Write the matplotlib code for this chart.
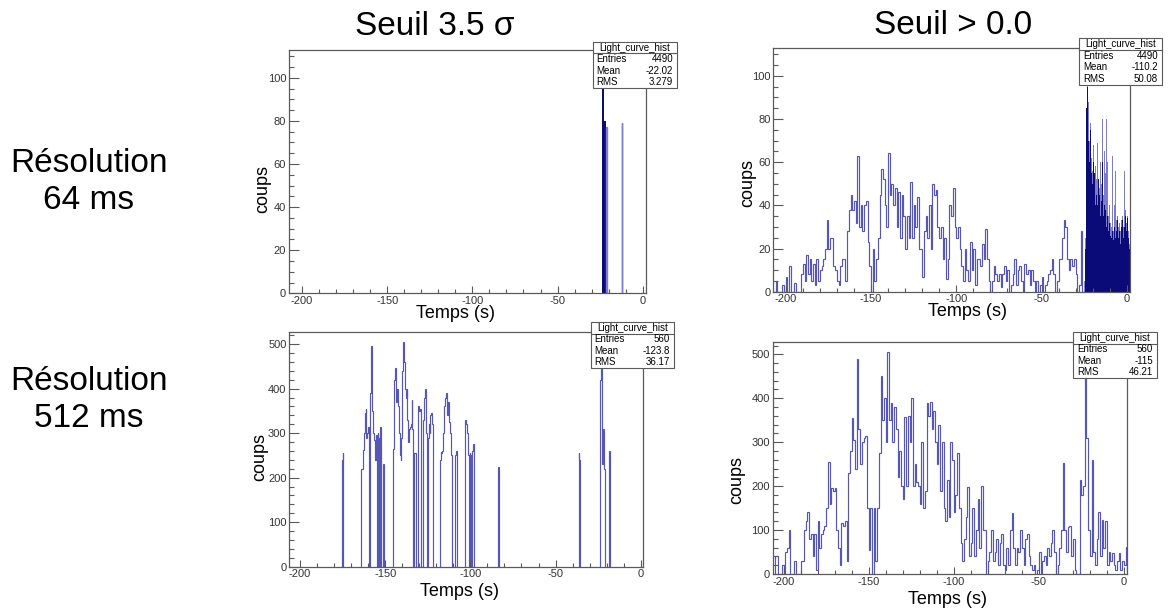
import numpy as np
import matplotlib.pyplot as plt
from matplotlib.patches import Rectangle
from matplotlib.lines import Line2D
from matplotlib.ticker import MultipleLocator
from matplotlib.transforms import Affine2D

W, H = 1170, 610
plt.rcParams['font.family'] = ['Liberation Sans', 'DejaVu Sans']
plt.rcParams['axes.unicode_minus'] = False

# ---------------- donnees ----------------
titres_col = ["Seuil 3.5 σ", "Seuil > 0.0"]
titres_lig = [("Résolution", "64 ms"), ("Résolution", "512 ms")]

# 64 ms, seuil 3.5 sigma : un paquet dense + deux pics isoles
a_bloc_bords = [-24.2, -23.9, -23.0, -22.5, -21.7]
a_bloc_coups = [77, 100, 90, 80]
a_pics_t = [-21.3, -12.3]
a_pics_coups = [77, 79]

# 64 ms, seuil > 0 : lu par pas de 1 s de -207 a -25 s
b_debut = -207
b_coups = [0, 5, 0, 0, 0, 3, 0, 7, 0, 12, 0, 0, 4, 0, 0, 0, 8, 13, 5, 17,
           8, 15, 5, 13, 3, 15, 5, 10, 12, 15, 20, 33, 20, 25, 25, 12, 10, 5, 3, 12,
           15, 15, 5, 28, 38, 45, 38, 42, 32, 63, 30, 40, 28, 40, 42, 23, 12, 0, 20, 5,
           15, 25, 45, 57, 52, 40, 30, 64, 45, 50, 40, 48, 30, 46, 25, 45, 35, 20, 35, 25,
           51, 25, 40, 30, 44, 20, 20, 7, 28, 35, 25, 40, 20, 50, 45, 47, 30, 25, 30, 15,
           25, 6, 15, 40, 35, 48, 30, 25, 30, 20, 12, 5, 20, 10, 5, 23, 10, 20, 3, 15,
           15, 12, 22, 15, 29, 15, 5, 0, 5, 12, 8, 5, 8, 2, 8, 12, 5, 10, 0, 3,
           8, 15, 3, 10, 12, 5, 0, 13, 8, 10, 3, 10, 5, 0, 5, 0, 3, 7, 0, 3,
           5, 8, 10, 15, 8, 0, 5, 15, 15, 25, 33, 30, 15, 10, 15, 12, 15, 8, 0, 3,
           28, 0]
# partie dense (pas de 0.5 s a partir de -25 s) : fond sombre et pointes claires
b_dense_debut = -25.0
b_dense_fond = [0, 20, 85, 95, 80, 70, 60, 75, 55, 50, 60, 45, 55, 40, 45, 40, 52, 38,
                45, 35, 42, 60, 35, 40, 30, 38, 30, 35, 28, 32, 26, 30, 25, 28, 24, 30,
                25, 28, 22, 33, 25, 28, 22, 30, 26, 33, 25, 30, 35, 28, 34, 20, 25, 20]
b_dense_pics = [5, 25, 78, 97, 85, 88, 70, 78, 62, 56, 68, 60, 55, 58, 52, 69, 50, 62,
                48, 60, 50, 80, 45, 65, 40, 55, 80, 60, 35, 40, 32, 48, 30, 63, 28, 40,
                56, 33, 25, 35, 30, 32, 28, 33, 30, 35, 30, 56, 38, 32, 35, 56, 28, 22]

# 512 ms, seuil 3.5 sigma : paquets non nuls, pas de 0.5 s
c_debuts = [-175.5, -164.0, -145.5, -118.0, -103.0, -83.5, -36.5, -24.0, -18.5]
c_paquets = [
    [240, 255],
    [220, 220, 262, 300, 345, 355, 290, 300, 315, 0, 390, 495, 400, 350, 300, 285,
     240, 295, 0, 300, 290, 0, 315, 0, 0, 230, 225],
    [265, 420, 420, 447, 370, 400, 360, 300, 250, 240, 290, 440, 505, 460, 400, 380,
     400, 330, 280, 310, 315, 320, 375, 310, 0, 255, 255, 0, 0, 330, 360, 350, 355,
     0, 0, 330, 360, 380, 400, 300, 0, 290, 320, 300, 340, 345, 320],
    [240, 258, 255, 260, 300, 360, 380, 390, 350, 340, 370, 325, 300, 250, 0, 0, 0, 0,
     250, 260],
    [330, 320, 300, 250, 0, 255, 250, 0, 260, 275],
    [225],
    [255, 240],
    [420, 470, 450, 230, 310, 220],
    [260],
]

# 512 ms, seuil > 0 : pas de 1 s de -206 a +2 s
d_debut = -206
d_coups = [0, 40, 40, 0, 0, 20, 0, 50, 60, 100, 0, 0, 30, 0, 0, 0, 30, 30, 100, 120,
           140, 80, 90, 40, 90, 10, 120, 60, 90, 100, 110, 150, 255, 160, 195, 190, 195, 100, 60, 20,
           115, 110, 120, 30, 230, 280, 355, 305, 240, 490, 330, 250, 300, 310, 315, 150, 55, 150, 0, 150,
           30, 150, 275, 450, 350, 400, 300, 505, 350, 390, 300, 380, 330, 220, 280, 200, 170, 358, 200, 360,
           300, 400, 200, 250, 210, 200, 160, 300, 150, 190, 390, 360, 392, 330, 370, 300, 250, 340, 190, 300,
           150, 120, 215, 130, 300, 260, 140, 180, 276, 150, 70, 30, 80, 130, 199, 40, 70, 150, 40, 100,
           170, 60, 200, 100, 100, 0, 30, 50, 100, 30, 50, 80, 20, 70, 90, 20, 10, 60, 20, 100,
           138, 60, 20, 60, 50, 100, 60, 20, 80, 90, 40, 20, 10, 20, 0, 10, 50, 0, 30, 40,
           20, 60, 40, 70, 100, 50, 0, 20, 60, 100, 252, 100, 50, 108, 110, 40, 80, 10, 0, 0,
           214, 180, 200, 460, 309, 100, 40, 260, 50, 20, 80, 142, 40, 123, 60, 120, 20, 50, 30, 47,
           20, 10, 30, 47, 10, 30, 20, 62]

stats = [("4490", "-22.02", "3.279"), ("4490", "-110.2", "50.08"),
         ("560", "-123.8", "36.17"), ("560", "-115", "46.21")]

# ---------------- mise en page (pixels de l'image) ----------------
cadres = [(289, 50, 646, 293.3), (773.3, 48.3, 1130, 291.7),
          (289.3, 331.7, 643.3, 566.7), (772.7, 341.7, 1127.3, 574)]
xlims = [(-207.6, 1.9), (-207.3, 1.9), (-206.3, 1.5), (-206.4, 2.0)]
ylims = [(0, 112.9), (0, 112.7), (0, 528), (0, 528.7)]
boites = [(592.7, 41.7, 677, 88.3), (1079, 38, 1162, 85),
          (590.5, 322, 674, 368), (1073, 332, 1157, 378)]
pos_coups = [(263, 189), (748, 183), (260, 457), (737, 480)]
pos_temps = [(456, 314), (967, 311), (459, 591), (947, 600)]

ligne = '#5656b6'
fonce = '#0a0a78'
clair = '#7c7cc8'
gris = '#5a5a5a'

fig = plt.figure(figsize=(W / 100, H / 100), dpi=100)
pix = Affine2D().scale(1 / W, -1 / H).translate(0, 1) + fig.transFigure

axes = []
for k, (x0, y0, x1, y1) in enumerate(cadres):
    ax = fig.add_axes([x0 / W, 1 - y1 / H, (x1 - x0) / W, (y1 - y0) / H])
    ax.set_xlim(*xlims[k])
    ax.set_ylim(*ylims[k])
    for sp in ax.spines.values():
        sp.set_color(gris)
        sp.set_linewidth(0.9)
    ax.xaxis.set_major_locator(MultipleLocator(50))
    ax.xaxis.set_minor_locator(MultipleLocator(10))
    if k < 2:
        ax.yaxis.set_major_locator(MultipleLocator(20))
        ax.yaxis.set_minor_locator(MultipleLocator(5))
    else:
        ax.yaxis.set_major_locator(MultipleLocator(100))
        ax.yaxis.set_minor_locator(MultipleLocator(20))
    ax.tick_params(which='both', direction='in', top=False, right=False,
                   color=gris, width=0.8, labelsize=8, labelcolor='#333333', pad=2)
    ax.tick_params(axis='y', which='major', length=7.2)
    ax.tick_params(axis='y', which='minor', length=3.6)
    ax.tick_params(axis='x', which='major', length=5)
    ax.tick_params(axis='x', which='minor', length=2.6)
    axes.append(ax)

# A : 64 ms, 3.5 sigma
ax = axes[0]
ax.stairs(a_bloc_coups, a_bloc_bords, fill=True, color=fonce)
for t, n in zip(a_pics_t, a_pics_coups):
    ax.stairs([n], [t, t + 0.064], color=clair, lw=1.0, baseline=0)

# B : 64 ms, > 0
ax = axes[1]
b_bords = b_debut + np.arange(len(b_coups) + 1)
ax.stairs(b_coups, b_bords, color=ligne, lw=0.85)
bd_bords = b_dense_debut + 0.5 * np.arange(len(b_dense_pics) + 1)
ax.stairs(b_dense_pics, bd_bords, color=clair, lw=0.8, fill=True)
ax.stairs(b_dense_fond, bd_bords, color=fonce, fill=True)

# C : 512 ms, 3.5 sigma
ax = axes[2]
for t0, vals in zip(c_debuts, c_paquets):
    bords = t0 + 0.5 * np.arange(len(vals) + 1)
    ax.stairs(vals, bords, color=ligne, lw=0.85, baseline=0)

# D : 512 ms, > 0
ax = axes[3]
d_bords = d_debut + np.arange(len(d_coups) + 1)
ax.stairs(d_coups, d_bords, color=ligne, lw=0.85)

# titres des axes
for k in range(4):
    fig.text(*pos_coups[k], "coups", transform=pix, rotation=90, fontsize=13,
             ha='center', va='center')
    fig.text(*pos_temps[k], "Temps (s)", transform=pix, fontsize=13,
             ha='center', va='center')

# boites de statistiques
for (x0, y0, x1, y1), (ent, moy, rms) in zip(boites, stats):
    fig.add_artist(Rectangle((x0, y0), x1 - x0, y1 - y0, transform=pix,
                             facecolor='white', edgecolor=gris, lw=0.8, zorder=10))
    h = (y1 - y0) / 4
    fig.add_artist(Line2D([x0, x1], [y0 + h, y0 + h], transform=pix,
                          color=gris, lw=0.8, zorder=11))
    fig.text((x0 + x1) / 2, y0 + h / 2, "Light_curve_hist", transform=pix,
             fontsize=7, ha='center', va='center', zorder=12)
    for i, (lab, val) in enumerate([("Entries", ent), ("Mean", moy), ("RMS", rms)]):
        yy = y0 + h * (i + 1.5)
        fig.text(x0 + 4, yy, lab, transform=pix, fontsize=7, ha='left',
                 va='center', zorder=12)
        fig.text(x1 - 4, yy, val, transform=pix, fontsize=7, ha='right',
                 va='center', zorder=12)

# titres de colonnes et de lignes
fig.text(435, 35, titres_col[0], transform=pix, fontsize=24, ha='center', va='baseline')
fig.text(953, 34, titres_col[1], transform=pix, fontsize=24, ha='center', va='baseline')
for (l1, l2), yb in zip(titres_lig, [172, 390]):
    fig.text(89, yb, l1, transform=pix, fontsize=24, ha='center', va='baseline')
    fig.text(89, yb + 37, l2, transform=pix, fontsize=24, ha='center', va='baseline')

fig.savefig("out.png", dpi=100)
